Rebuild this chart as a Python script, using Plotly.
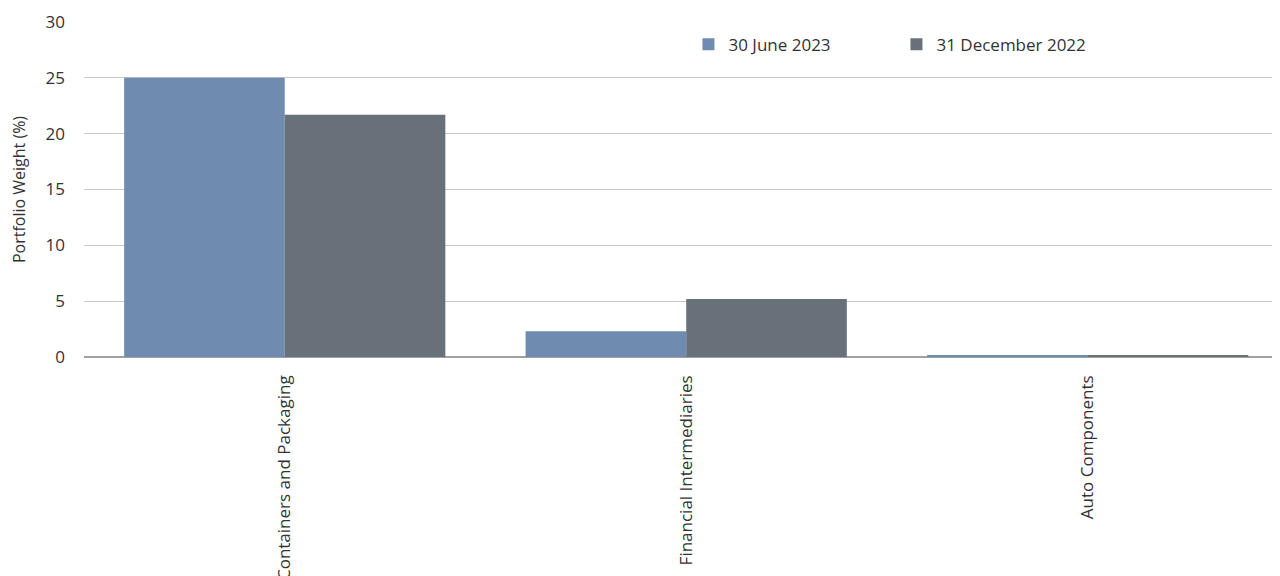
import plotly.graph_objects as go

categories = ["Containers and Packaging", "Financial Intermediaries", "Auto Components"]
june_2023 = [25.0, 2.3, 0.15]
dec_2022 = [21.7, 5.2, 0.15]
series_names = ["30 June 2023", "31 December 2022"]
y_ticks = [0, 5, 10, 15, 20, 25, 30]

font_family = "Open Sans, Noto Sans, sans-serif"

fig = go.Figure()
fig.add_trace(go.Bar(x=categories, y=june_2023, name=series_names[0],
                     marker=dict(color="#6F8BB0", line=dict(width=0))))
fig.add_trace(go.Bar(x=categories, y=dec_2022, name=series_names[1],
                     marker=dict(color="#687079", line=dict(width=0))))

# page body has an 8px default margin; compensate in size and margins
fig.update_layout(
    width=1272, height=568,
    margin=dict(l=76, r=0, t=14, b=219),
    paper_bgcolor="white", plot_bgcolor="white",
    barmode="group", bargap=0.2, bargroupgap=0,
    font=dict(family=font_family, size=17, color="#333333"),
    showlegend=True,
    legend=dict(orientation="h", x=0.5054, y=0.986, xanchor="left", yanchor="top",
                font=dict(size=17, color="#333333"), itemwidth=30,
                bgcolor="rgba(0,0,0,0)", traceorder="normal",
                entrywidth=163),
    xaxis=dict(tickangle=-90, showgrid=False, ticks="", showline=False,
               range=[-0.5, 2.479], automargin=False,
               ticklabelstandoff=14,
               tickfont=dict(size=17, color="#333333")),
    yaxis=dict(range=[0, 30], tickvals=y_ticks, showgrid=True,
               gridcolor="#c8c8c8", gridwidth=1, zeroline=True,
               zerolinecolor="#a0a0a0", zerolinewidth=2, automargin=False,
               ticks="", tickfont=dict(size=17, color="#333333"),
               ticklabelstandoff=18,
               title=dict(text="Portfolio Weight (%)", font=dict(size=16, color="#333333"),
                          standoff=16)),
)

fig.write_html("out.html")
